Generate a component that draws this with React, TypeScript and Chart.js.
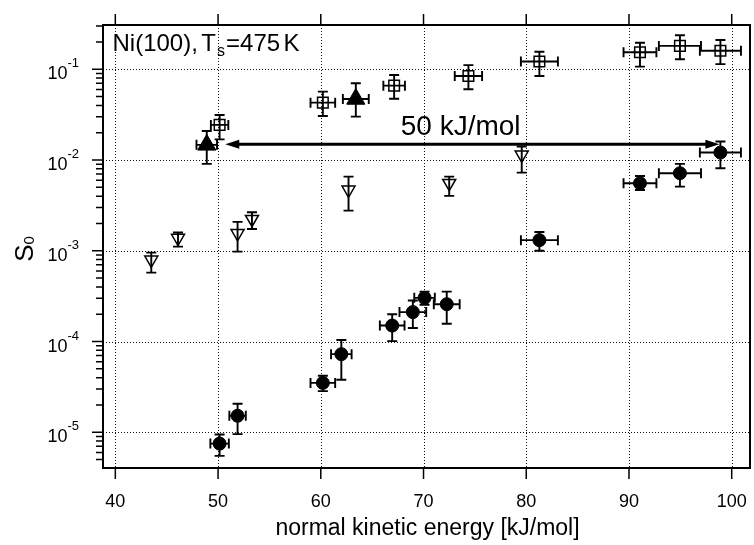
import { useEffect, useRef } from 'react';
import { Chart, registerables } from 'chart.js';

Chart.register(...registerables);

const FONT = '"Liberation Sans", Arial, Helvetica, sans-serif';

// Axis ranges and ticks
const X_MIN = 38.8;
const X_MAX = 101.78;
const Y_MIN = 4.04e-6;
const Y_MAX = 0.3076;
const xTickValues = [40, 50, 60, 70, 80, 90, 100];
const yDecadeExponents = [-5, -4, -3, -2, -1];

// Filled circles
const circX = [50.15, 51.9, 60.2, 62.0, 66.95, 68.96, 70.1, 72.26, 81.28, 91.07, 94.96, 98.9];
const circY = [7.5e-6, 1.52e-5, 3.5e-5, 7.26e-5, 1.5e-4, 2.11e-4, 3.03e-4, 2.58e-4, 1.31e-3, 5.55e-3, 7.16e-3, 1.21e-2];
const circYLo = [5.5e-6, 9.55e-6, 2.84e-5, 3.79e-5, 1.01e-4, 1.41e-4, 2.54e-4, 1.57e-4, 1.0e-3, 4.68e-3, 5.09e-3, 8.13e-3];
const circYHi = [9.46e-6, 2.06e-5, 4.19e-5, 1.04e-4, 2.0e-4, 2.83e-4, 3.55e-4, 3.55e-4, 1.61e-3, 6.68e-3, 9.06e-3, 1.6e-2];
const circXErr = [0.9, 0.8, 1.2, 1.0, 1.2, 1.3, 1.0, 1.26, 1.8, 1.6, 2.05, 2.0];

// Open squares
const sqX = [50.15, 60.2, 67.14, 74.37, 81.28, 91.07, 94.96, 98.9];
const sqY = [2.44e-2, 4.29e-2, 6.6e-2, 8.44e-2, 0.122, 0.154, 0.181, 0.16];
const sqYLo = [1.69e-2, 3.06e-2, 4.74e-2, 6.02e-2, 8.44e-2, 0.107, 0.129, 0.114];
const sqYHi = [3.14e-2, 5.67e-2, 8.65e-2, 0.111, 0.156, 0.196, 0.237, 0.21];
const sqXErr = [0.85, 1.2, 1.05, 1.33, 1.8, 1.6, 2.05, 2.0];

// Filled up-triangles
const triUpX = [48.9, 63.41];
const triUpY = [1.47e-2, 4.71e-2];
const triUpYLo = [9.06e-3, 3.01e-2];
const triUpYHi = [2.09e-2, 7.01e-2];
const triUpXErr = [1.0, 1.26];

// Open down-triangles
const triDnX = [43.5, 46.1, 51.9, 53.3, 62.7, 72.5, 79.56];
const triDnY = [7.94e-4, 1.38e-3, 1.56e-3, 2.23e-3, 4.69e-3, 5.55e-3, 1.14e-2];
const triDnYLo = [5.75e-4, 1.11e-3, 9.8e-4, 1.74e-3, 2.77e-3, 4.03e-3, 7.27e-3];
const triDnYHi = [9.55e-4, 1.59e-3, 2.08e-3, 2.66e-3, 6.56e-3, 6.56e-3, 1.41e-2];
const triDnXErr = [0, 0, 0, 0, 0, 0, 0];

// Annotation
const arrowX = [50.7, 98.8];
const arrowY = 1.49e-2;
const arrowLabel = '50 kJ/mol';
const arrowLabelX = 67.78;
const arrowLabelY = 1.888e-2;
const xTitle = 'normal kinetic energy [kJ/mol]';

const errorSets = [
  { yLo: circYLo, yHi: circYHi, xErr: circXErr },
  { yLo: sqYLo, yHi: sqYHi, xErr: sqXErr },
  { yLo: triUpYLo, yHi: triUpYHi, xErr: triUpXErr },
  { yLo: triDnYLo, yHi: triDnYHi, xErr: triDnXErr },
];

const toPoints = (xs: number[], ys: number[]) => xs.map((x, i) => ({ x, y: ys[i] }));

const decorPlugin = {
  id: 'decor',
  beforeDatasetsDraw(chart: any) {
    const { ctx, chartArea: a, scales } = chart;
    const xs = scales.x;
    const ys = scales.y;
    ctx.save();
    // dotted grid
    ctx.strokeStyle = '#111';
    ctx.lineWidth = 1;
    ctx.setLineDash([1, 2]);
    for (const v of xTickValues) {
      const px = Math.round(xs.getPixelForValue(v)) + 0.5;
      ctx.beginPath();
      ctx.moveTo(px, a.top);
      ctx.lineTo(px, a.bottom);
      ctx.stroke();
    }
    for (const e of yDecadeExponents) {
      const py = Math.round(ys.getPixelForValue(Math.pow(10, e))) + 0.5;
      ctx.beginPath();
      ctx.moveTo(a.left, py);
      ctx.lineTo(a.right, py);
      ctx.stroke();
    }
    ctx.setLineDash([]);
    // error bars
    ctx.strokeStyle = '#000';
    ctx.lineWidth = 1.9;
    const cap = 5;
    chart.data.datasets.forEach((ds: any, di: number) => {
      const err = errorSets[di];
      ds.data.forEach((p: any, i: number) => {
        const cx = xs.getPixelForValue(p.x);
        const cy = ys.getPixelForValue(p.y);
        const yt = ys.getPixelForValue(err.yHi[i]);
        const yb = ys.getPixelForValue(err.yLo[i]);
        ctx.beginPath();
        ctx.moveTo(cx, yt);
        ctx.lineTo(cx, yb);
        ctx.moveTo(cx - cap, yt);
        ctx.lineTo(cx + cap, yt);
        ctx.moveTo(cx - cap, yb);
        ctx.lineTo(cx + cap, yb);
        if (err.xErr[i] > 0) {
          const xl = xs.getPixelForValue(p.x - err.xErr[i]);
          const xr = xs.getPixelForValue(p.x + err.xErr[i]);
          ctx.moveTo(xl, cy);
          ctx.lineTo(xr, cy);
          ctx.moveTo(xl, cy - cap);
          ctx.lineTo(xl, cy + cap);
          ctx.moveTo(xr, cy - cap);
          ctx.lineTo(xr, cy + cap);
        }
        ctx.stroke();
      });
    });
    ctx.restore();
  },
  afterDatasetsDraw(chart: any) {
    const { ctx, chartArea: a, scales } = chart;
    const xs = scales.x;
    const ys = scales.y;
    ctx.save();
    ctx.fillStyle = '#000';
    ctx.strokeStyle = '#000';

    // arrow
    const ax1 = xs.getPixelForValue(arrowX[0]);
    const ax2 = xs.getPixelForValue(arrowX[1]);
    const ay = ys.getPixelForValue(arrowY);
    const hl = 14;
    const hw = 4.5;
    ctx.lineWidth = 3;
    ctx.beginPath();
    ctx.moveTo(ax1 + hl - 1, ay);
    ctx.lineTo(ax2 - hl + 1, ay);
    ctx.stroke();
    ctx.beginPath();
    ctx.moveTo(ax1, ay);
    ctx.lineTo(ax1 + hl, ay - hw);
    ctx.lineTo(ax1 + hl, ay + hw);
    ctx.closePath();
    ctx.fill();
    ctx.beginPath();
    ctx.moveTo(ax2, ay);
    ctx.lineTo(ax2 - hl, ay - hw);
    ctx.lineTo(ax2 - hl, ay + hw);
    ctx.closePath();
    ctx.fill();

    ctx.textAlign = 'left';
    ctx.textBaseline = 'alphabetic';
    ctx.font = `28px ${FONT}`;
    ctx.fillText(arrowLabel, xs.getPixelForValue(arrowLabelX), ys.getPixelForValue(arrowLabelY));

    // frame
    ctx.lineWidth = 2;
    ctx.strokeRect(a.left, a.top, a.right - a.left, a.bottom - a.top);

    // x ticks top and bottom
    ctx.lineWidth = 1.5;
    ctx.beginPath();
    for (const v of xTickValues) {
      const px = xs.getPixelForValue(v);
      ctx.moveTo(px, a.top);
      ctx.lineTo(px, a.top - 11);
      ctx.moveTo(px, a.bottom);
      ctx.lineTo(px, a.bottom + 11);
    }
    // y ticks (major and minor), pointing outward
    for (let e = -7; e <= 0; e++) {
      for (let k = 1; k <= 9; k++) {
        const v = k * Math.pow(10, e);
        if (v < Y_MIN || v > Y_MAX) continue;
        const py = ys.getPixelForValue(v);
        const len = k === 1 ? 11 : 7;
        ctx.moveTo(a.left, py);
        ctx.lineTo(a.left - len, py);
      }
    }
    ctx.stroke();

    // x tick labels
    ctx.font = `18px ${FONT}`;
    ctx.textAlign = 'center';
    for (const v of xTickValues) {
      ctx.fillText(String(v), xs.getPixelForValue(v), 507);
    }
    // y tick labels with superscript
    ctx.textAlign = 'left';
    for (const e of yDecadeExponents) {
      const py = ys.getPixelForValue(Math.pow(10, e));
      ctx.font = `18px ${FONT}`;
      const wb = ctx.measureText('10').width;
      ctx.font = `13px ${FONT}`;
      const sup = String(e);
      const ws = ctx.measureText(sup).width;
      const x0 = 79 - wb - ws;
      ctx.font = `18px ${FONT}`;
      ctx.fillText('10', x0, py + 10);
      ctx.font = `13px ${FONT}`;
      ctx.fillText(sup, x0 + wb, py - 2);
    }

    // x axis title
    ctx.font = `23px ${FONT}`;
    ctx.textAlign = 'center';
    ctx.fillText(xTitle, (a.left + a.right) / 2 + 1, 535);

    // y axis title S0
    ctx.save();
    ctx.translate(33, 249);
    ctx.rotate(-Math.PI / 2);
    ctx.textAlign = 'left';
    ctx.font = `26px ${FONT}`;
    const wS = ctx.measureText('S').width;
    ctx.font = `15px ${FONT}`;
    const w0 = ctx.measureText('0').width;
    const sx = -(wS + w0) / 2;
    ctx.font = `26px ${FONT}`;
    ctx.fillText('S', sx, 0);
    ctx.font = `15px ${FONT}`;
    ctx.fillText('0', sx + wS, 1);
    ctx.restore();

    // sample label Ni(100), Ts=475 K
    ctx.textAlign = 'left';
    let tx = 112.5;
    const tb = 51;
    ctx.font = `24px ${FONT}`;
    ctx.fillText('Ni(100),', tx, tb);
    tx += ctx.measureText('Ni(100),').width + 3.5;
    ctx.fillText('T', tx, tb);
    tx += ctx.measureText('T').width + 1;
    ctx.font = `16px ${FONT}`;
    ctx.fillText('s', tx, tb + 5);
    tx += ctx.measureText('s').width + 1;
    ctx.font = `24px ${FONT}`;
    ctx.fillText('=475', tx, tb);
    tx += ctx.measureText('=475').width + 3.5;
    ctx.fillText('K', tx, tb);

    ctx.restore();
  },
};

export default function App() {
  const ref = useRef<HTMLCanvasElement>(null);
  useEffect(() => {
    const canvas = ref.current;
    if (!canvas) return;
    const chart = new Chart(canvas, {
      type: 'scatter',
      data: {
        datasets: [
          {
            label: 'filled circles',
            data: toPoints(circX, circY),
            pointStyle: 'circle',
            pointRadius: 6.5,
            backgroundColor: '#000',
            borderColor: '#000',
            borderWidth: 1,
          },
          {
            label: 'open squares',
            data: toPoints(sqX, sqY),
            pointStyle: 'rect',
            pointRadius: 7.5,
            backgroundColor: 'rgba(0,0,0,0)',
            borderColor: '#000',
            borderWidth: 1.5,
          },
          {
            label: 'filled up-triangles',
            data: toPoints(triUpX, triUpY),
            pointStyle: 'triangle',
            pointRadius: 10.5,
            backgroundColor: '#000',
            borderColor: '#000',
            borderWidth: 1,
          },
          {
            label: 'open down-triangles',
            data: toPoints(triDnX, triDnY),
            pointStyle: 'triangle',
            rotation: 180,
            pointRadius: 7.5,
            backgroundColor: 'rgba(0,0,0,0)',
            borderColor: '#000',
            borderWidth: 1.5,
          },
        ],
      } as any,
      options: {
        responsive: false,
        animation: false,
        devicePixelRatio: 1,
        layout: { autoPadding: false, padding: { left: 103, top: 25, right: 4, bottom: 77 } },
        plugins: { legend: { display: false }, tooltip: { enabled: false } },
        scales: {
          x: { type: 'linear', min: X_MIN, max: X_MAX, display: false },
          y: { type: 'logarithmic', min: Y_MIN, max: Y_MAX, display: false },
        },
      } as any,
      plugins: [decorPlugin],
    });
    return () => chart.destroy();
  }, []);
  return (
    <canvas
      ref={ref}
      width={754}
      height={545}
      style={{ position: 'absolute', left: 0, top: 0, width: 754, height: 545 }}
    />
  );
}
